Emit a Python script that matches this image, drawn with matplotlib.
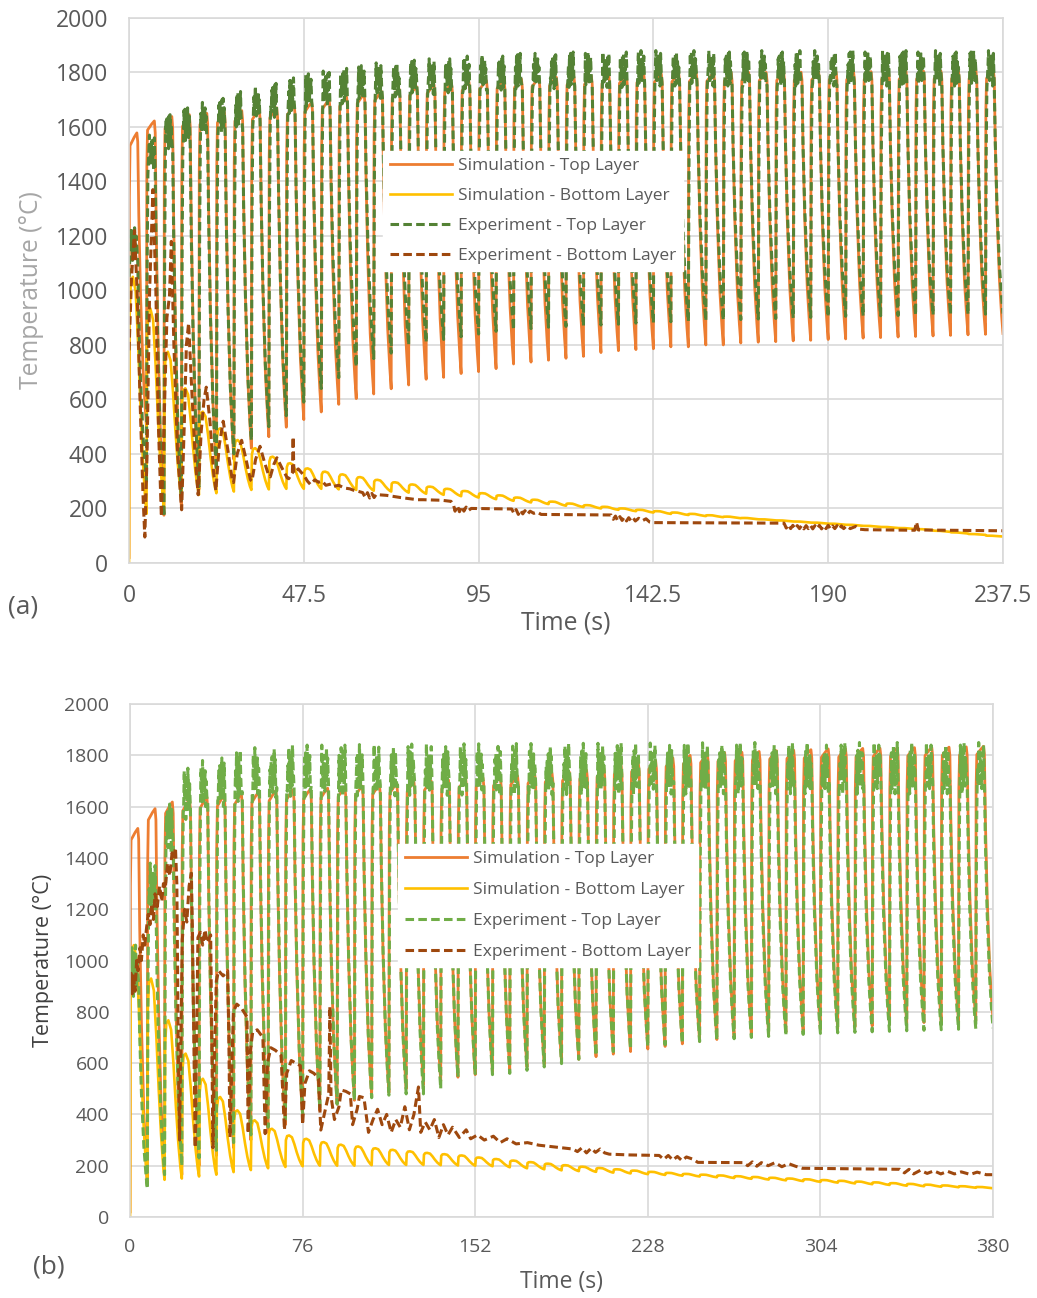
import numpy as np
import matplotlib
matplotlib.use('Agg')
import matplotlib.pyplot as plt

plt.rcParams['font.family'] = ['Open Sans', 'DejaVu Sans']

# ---------------- data ----------------
# panel (a): 50 cycles of 4.75 s
A_PERIOD = 4.75
A_XTICKS = [0, 47.5, 95, 142.5, 190, 237.5]
A_XTICK_LABELS = ['0', '47.5', '95', '142.5', '190', '237.5']

A_SIM_TOP_PEAK = [1578, 1622, 1638, 1645, 1650, 1655, 1660, 1665, 1670, 1680,
                  1690, 1700, 1710, 1720, 1730, 1740, 1748, 1755, 1760, 1765,
                  1770, 1773, 1776, 1779, 1782, 1785, 1787, 1789, 1791, 1793,
                  1795, 1796, 1797, 1798, 1799, 1800, 1800, 1801, 1801, 1802,
                  1802, 1803, 1803, 1804, 1804, 1805, 1805, 1806, 1806, 1807]
A_SIM_TOP_TROUGH = [500, 175, 200, 270, 330, 380, 421, 463, 498, 526,
                    554, 582, 603, 620, 639, 653, 674, 681, 695, 702,
                    713, 730, 737, 744, 751, 758, 772, 779, 783, 786,
                    793, 793, 800, 800, 807, 810, 812, 815, 817, 820,
                    822, 825, 827, 829, 831, 833, 835, 837, 839, 842]
A_EXP_TOP_PEAK = [1130, 1470, 1550, 1570, 1590, 1610, 1630, 1650, 1665, 1680,
                  1695, 1705, 1715, 1725, 1735, 1740, 1745, 1750, 1755, 1760,
                  1765, 1765, 1770, 1770, 1770, 1775, 1775, 1775, 1775, 1780,
                  1780, 1780, 1780, 1780, 1780, 1780, 1780, 1780, 1780, 1780,
                  1780, 1780, 1780, 1780, 1780, 1780, 1780, 1780, 1780, 1780]
A_EXP_TOP_TROUGH = [300, 170, 230, 280, 340, 400, 450, 500, 540, 590,
                    640, 680, 720, 750, 770, 800, 810, 820, 830, 840,
                    850, 855, 860, 865, 868, 870, 873, 876, 880, 882,
                    885, 887, 889, 891, 893, 895, 897, 899, 901, 903,
                    905, 906, 907, 908, 909, 910, 911, 912, 913, 915]
A_EXP_TOP_NOISE = [0, 50, -30, 90, 20, 95, -20, 60, 0, 40, 100, 10, -10, 70, 30, 80]
A_SIM_BOT_PEAK = [1050, 934, 775, 641, 555, 494, 451, 421, 390, 366,
                  347, 335, 325, 315, 305, 296, 288, 280, 272, 264,
                  256, 248, 240, 232, 225, 218, 212, 206, 200, 195,
                  190, 185, 180, 175, 170, 165, 160, 156, 152, 148,
                  144, 140, 136, 132, 128, 124, 118, 112, 106, 100]
A_SIM_BOT_TROUGH = [180, 200, 240, 250, 256, 262, 268, 270, 272, 272,
                    272, 270, 268, 265, 262, 258, 254, 250, 245, 240,
                    234, 228, 222, 216, 210, 205, 200, 195, 190, 185,
                    180, 176, 172, 168, 164, 160, 156, 152, 148, 144,
                    140, 136, 132, 128, 124, 120, 114, 108, 103, 97]
A_EXP_BOT_T = [0, 0.7, 1.5, 2.2, 3.0, 3.8, 4.3, 4.9, 5.6, 6.5, 7.3, 8.0, 8.8, 9.5, 10.3, 11.0, 11.5,
               12.2, 13.2, 14.3, 15.0, 15.6, 16.2, 17.0, 18.0, 18.8, 19.6, 20.4, 21.0, 22.0, 23.0,
               23.6, 24.5, 25.6, 26.8, 28.0, 28.4, 29.4, 30.6, 31.8, 33.0, 33.4, 34.4, 35.6, 36.8,
               38.0, 38.4, 39.3, 40.2, 41.5, 43.0, 43.4, 44.4, 44.6, 44.8, 46.0, 46.5, 47.5, 48.5,
               49.3, 50.5, 51.5, 52.5, 53.5, 55.0, 55.6, 57, 58.5, 60, 61, 62.5, 63.5, 64.2, 64.8,
               65.4, 66.0, 66.6, 67.2, 68, 70, 73.8, 78.4, 80, 85, 87.5, 88.2, 88.6, 89.2, 89.8,
               90.4, 91, 91.6, 92.2, 93, 104, 104.6, 105.2, 105.8, 106.4, 107, 107.6, 108.2, 109,
               110, 111, 112, 131, 131.6, 132.2, 132.8, 133.4, 134, 134.6, 135.2, 135.8, 136.4, 137,
               137.6, 138.5, 139.5, 140.5, 141.5, 142.5, 178, 178.6, 179.2, 179.8, 180.4, 181,
               181.6, 182.2, 182.8, 183.4, 184, 184.6, 185.2, 185.8, 186.4, 187, 187.6, 188.2,
               188.8, 189.4, 190, 190.6, 191.2, 191.8, 192.4, 193, 193.6, 194.2, 195, 196, 197.5,
               198.5, 200, 213.5, 214, 214.5, 237.5]
A_EXP_BOT_V = [780, 1050, 1220, 1000, 600, 250, 95, 400, 1000, 1370, 1000, 500, 170, 500, 900, 980, 1180,
               800, 400, 195, 500, 800, 880, 650, 380, 250, 480, 600, 645, 520, 330,
               265, 430, 520, 420, 310, 295, 400, 450, 380, 305, 300, 380, 428, 370,
               320, 316, 360, 386, 350, 312, 309, 330, 463, 330, 345, 337, 322, 300,
               288, 305, 296, 300, 285, 290, 281, 285, 275, 272, 267, 262, 258, 240, 258,
               238, 255, 240, 252, 250, 248, 240, 232, 232, 230, 226, 212, 190, 210, 188,
               208, 190, 205, 192, 200, 198, 182, 196, 178, 194, 180, 192, 178, 190,
               182, 186, 178, 176, 160, 172, 155, 170, 156, 168, 154, 166, 155, 165,
               154, 164, 155, 162, 150, 148, 146, 128, 140, 126, 138, 125,
               137, 126, 138, 125, 137, 126, 138, 125, 137, 126, 138, 125,
               137, 126, 138, 125, 136, 126, 137, 125, 136, 126, 136, 126, 134,
               124, 122, 120, 150, 121, 118]

# panel (b): 50 cycles of 7.6 s
B_PERIOD = 7.6
B_XTICKS = [0, 76, 152, 228, 304, 380]
B_XTICK_LABELS = ['0', '76', '152', '228', '304', '380']

B_SIM_TOP_PEAK = [1515, 1592, 1618, 1628, 1637, 1644, 1650, 1657, 1663, 1666,
                  1668, 1672, 1676, 1680, 1685, 1690, 1695, 1700, 1704, 1708,
                  1712, 1716, 1720, 1725, 1730, 1735, 1742, 1750, 1760, 1770,
                  1780, 1790, 1800, 1805, 1810, 1812, 1815, 1818, 1820, 1822,
                  1825, 1826, 1827, 1828, 1829, 1830, 1831, 1832, 1833, 1835]
B_SIM_TOP_TROUGH = [130, 150, 165, 200, 240, 270, 300, 330, 360, 390,
                    415, 440, 455, 470, 485, 500, 515, 530, 545, 555,
                    565, 575, 585, 595, 605, 615, 625, 635, 645, 655,
                    665, 675, 685, 692, 700, 708, 715, 720, 725, 730,
                    735, 740, 745, 750, 755, 758, 760, 762, 765, 768]
B_EXP_TOP_PEAK = [940, 1260, 1500, 1630, 1660, 1680, 1700, 1710, 1715, 1720,
                  1720, 1720, 1720, 1722, 1722, 1722, 1724, 1724, 1724, 1725,
                  1725, 1725, 1726, 1726, 1726, 1727, 1727, 1727, 1728, 1728,
                  1728, 1729, 1729, 1729, 1730, 1730, 1730, 1730, 1730, 1730,
                  1730, 1730, 1730, 1730, 1730, 1730, 1730, 1730, 1730, 1730]
B_EXP_TOP_TROUGH = [110, 165, 200, 230, 260, 290, 320, 350, 380, 400,
                    420, 440, 455, 465, 475, 480, 480, 500, 546, 559,
                    555, 560, 572, 585, 598, 615, 630, 645, 655, 665,
                    672, 678, 684, 690, 695, 700, 704, 708, 712, 716,
                    718, 720, 722, 724, 726, 728, 730, 732, 734, 736]
B_EXP_TOP_NOISE = [-60, 40, -20, 110, 0, 70, -80, 90, 20, -40, 120, 30, -50, 60, 10, 80]
B_SIM_BOT_PEAK = [1060, 930, 767, 637, 539, 468, 416, 377, 344, 318,
                  305, 292, 282, 275, 268, 262, 256, 250, 245, 240,
                  232, 226, 220, 214, 208, 202, 196, 191, 186, 181,
                  176, 172, 168, 165, 162, 159, 156, 153, 150, 147,
                  144, 141, 138, 135, 132, 129, 126, 123, 120, 117]
B_SIM_BOT_TROUGH = [140, 145, 150, 158, 165, 175, 183, 190, 195, 198,
                    200, 200, 200, 202, 203, 203, 203, 202, 201, 200,
                    198, 194, 190, 186, 182, 179, 176, 173, 170, 167,
                    164, 161, 158, 155, 152, 149, 146, 143, 140, 137,
                    134, 131, 128, 125, 122, 120, 118, 116, 114, 112]
B_EXP_BOT_T = [0, 0.5, 1.0, 1.5, 2.2, 2.9, 3.5, 4.4, 5.0, 5.8, 6.5, 7.3, 8.0, 8.8, 9.5, 10.3, 11.0,
               12.0, 13.0, 14.0, 14.7, 15.5, 16.5, 17.5, 18.5, 19.3, 20.0, 20.6, 21.2, 21.8, 22.4,
               23.0, 24.0, 25.0, 26.0, 27.0, 27.5, 28.2, 28.7, 29.3, 29.9, 31, 32, 33, 34, 35.5,
               36.0, 36.5, 37.2, 38, 39, 41, 43.0, 43.5, 44, 44.9, 45.5, 47, 49, 51.5, 52, 53, 54,
               56, 58.5, 59.5, 60.5, 62, 64, 66.5, 68, 69, 71, 73, 75, 76, 77, 79, 81, 83, 84, 86,
               87.5, 88.0, 88.5, 90, 92, 93, 95, 97, 98, 100, 101, 103, 105, 107, 109, 111, 113,
               115, 117, 119, 121, 123, 125, 127, 128, 130, 132, 134, 136, 138, 140, 142, 145,
               148, 150, 153, 156, 160, 163, 166, 170, 175, 180, 185, 190, 195, 197, 199, 201,
               203, 205, 207, 209, 211, 220, 233, 235, 237, 239, 241, 243, 245, 248, 250, 270,
               272, 274, 276, 278, 281, 284, 287, 290, 293, 296, 320, 339, 341, 343, 345, 348,
               351, 354, 357, 360, 363, 366, 370, 373, 377, 380]
B_EXP_BOT_V = [900, 950, 870, 940, 880, 1000, 960, 1050, 1000, 1100, 1060, 1130, 1180, 1140, 1220, 1160, 1260,
               1210, 1290, 1230, 1300, 1280, 1380, 1330, 1420, 1400, 1440, 1300, 700, 300, 700,
               1080, 1200, 1150, 1290, 1340, 1100, 600, 270, 700, 1090, 1110, 1060, 1120, 1070, 1100,
               700, 270, 650, 920, 960, 940, 960, 700, 311, 600, 800, 830, 815, 780, 325, 650, 720,
               730, 700, 325, 600, 660, 650, 630, 339, 560, 610, 600, 590, 360, 520, 570, 560, 540, 339, 420,
               480, 820, 470, 380, 430, 495, 490, 480, 360, 420, 470, 465, 330, 380, 420, 360, 400,
               330, 380, 350, 430, 340, 400, 507, 330, 370, 340, 380, 310, 360, 320, 350, 310,
               340, 305, 320, 300, 315, 290, 305, 285, 290, 280, 275, 270, 265, 255, 270, 250,
               268, 252, 265, 250, 245, 242, 240, 225, 240, 222, 236, 220, 234, 225, 213, 212,
               200, 215, 198, 212, 200, 212, 196, 208, 198, 190, 188, 186, 172, 186, 168, 182,
               170, 180, 168, 178, 168, 176, 166, 175, 165, 165]

# shape of one cycle (fraction of the way from trough to peak)
TOP_PHASE = [0.0, 0.02, 0.06, 0.30, 0.45, 0.50, 0.56, 0.66, 0.80, 0.92, 1.0]
TOP_FRAC = [0.0, 0.85, 0.97, 0.99, 1.00, 0.97, 0.72, 0.45, 0.20, 0.07, 0.0]
EXP_PHASE = [0.0, 0.04, 0.08, 0.11, 0.14, 0.17, 0.20, 0.23, 0.26, 0.29, 0.32, 0.35,
             0.38, 0.41, 0.45, 0.50, 0.56, 0.66, 0.80, 0.92, 1.0]
EXP_FRAC = [0.0, 0.70, 0.96, 1, 1, 1, 1, 1, 1, 1, 1, 1, 1, 1, 1, 0.97, 0.72, 0.45, 0.20, 0.07, 0.0]
BOT_PHASE = [0.0, 0.03, 0.10, 0.22, 0.38, 0.52, 0.66, 0.80, 0.92, 1.0]
BOT_FRAC = [0.0, 0.85, 0.98, 1.00, 0.94, 0.72, 0.45, 0.22, 0.07, 0.0]

ORANGE = '#ED7D31'
YELLOW = '#FFC000'
GREEN_A = '#548235'
GREEN_B = '#70AD47'
BROWN = '#9E480E'
GRID = '#D9D9D9'
TXT = '#595959'


def build_wave(period, peaks, troughs, start, phase, frac, noise=None):
    k_peak = int(np.argmax(np.array(frac) >= 1.0))
    ts, ys = [0.0], [start]
    prev = start
    for i, (pk, tr) in enumerate(zip(peaks, troughs)):
        t0 = i * period
        for j in range(1, len(phase)):
            base = prev if j < k_peak else tr
            y = base + frac[j] * (pk - base)
            if noise is not None and frac[j] >= 1.0:
                y += noise[(i * 5 + j) % len(noise)]
            ts.append(t0 + phase[j] * period)
            ys.append(y)
        prev = tr
    return ts, ys


def draw_panel(ax, period, xticks, xlabels, sim_top, exp_top, noise, sim_bot, exp_bot,
               green, tick_fs, xlab_fs, ylab_fs, ylab_color, leg_anchor, leg_spacing):
    t, y = build_wave(period, sim_top[0], sim_top[1], 20, TOP_PHASE, TOP_FRAC)
    ax.plot(t, y, color=ORANGE, lw=2.0, label='Simulation - Top Layer')
    t, y = build_wave(period, sim_bot[0], sim_bot[1], 0, BOT_PHASE, BOT_FRAC)
    ax.plot(t, y, color=YELLOW, lw=1.9, label='Simulation - Bottom Layer')
    t, y = build_wave(period, exp_top[0], exp_top[1], exp_top[2], EXP_PHASE, EXP_FRAC, noise)
    ax.plot(t, y, color=green, lw=2.2, ls=(0, (2.8, 1.4)), label='Experiment - Top Layer')
    ax.plot(exp_bot[0], exp_bot[1], color=BROWN, lw=2.2, ls=(0, (2.8, 1.4)),
            label='Experiment - Bottom Layer')

    ax.set_xlim(xticks[0], xticks[-1])
    ax.set_ylim(0, 2000)
    ax.set_xticks(xticks)
    ax.set_xticklabels(xlabels)
    ax.set_yticks(range(0, 2001, 200))
    ax.grid(color=GRID, lw=1.2)
    ax.set_axisbelow(True)
    for s in ax.spines.values():
        s.set_color(GRID)
        s.set_linewidth(1.2)
    ax.tick_params(length=0, labelsize=tick_fs, colors=TXT)
    ax.tick_params(axis='y', pad=15)
    ax.tick_params(axis='x', pad=15)
    ax.set_xlabel('Time (s)', fontsize=xlab_fs, color=TXT)
    ax.set_ylabel('Temperature (°C)', fontsize=ylab_fs, color=ylab_color)
    leg = ax.legend(loc='upper left', bbox_to_anchor=leg_anchor, bbox_transform=plt.gcf().transFigure,
                    fontsize=12.5, frameon=True, fancybox=False, framealpha=1, edgecolor='white',
                    handlelength=3.6, handletextpad=0.3, labelspacing=leg_spacing, borderpad=0.4,
                    borderaxespad=0)
    for txt in leg.get_texts():
        txt.set_color(TXT)


fig = plt.figure(figsize=(10.37, 12.98), dpi=100)
ax_a = fig.add_axes([0.1244, 0.5663, 0.8428, 0.4199])
ax_b = fig.add_axes([0.1254, 0.0624, 0.8322, 0.3952])

draw_panel(ax_a, A_PERIOD, A_XTICKS, A_XTICK_LABELS,
           (A_SIM_TOP_PEAK, A_SIM_TOP_TROUGH), (A_EXP_TOP_PEAK, A_EXP_TOP_TROUGH, 1050),
           A_EXP_TOP_NOISE, (A_SIM_BOT_PEAK, A_SIM_BOT_TROUGH), (A_EXP_BOT_T, A_EXP_BOT_V),
           GREEN_A, 16.5, 17.8, 17.7, '#A6A6A6', (383 / 1037, 1 - 151 / 1298), 0.8)
draw_panel(ax_b, B_PERIOD, B_XTICKS, B_XTICK_LABELS,
           (B_SIM_TOP_PEAK, B_SIM_TOP_TROUGH), (B_EXP_TOP_PEAK, B_EXP_TOP_TROUGH, 870),
           B_EXP_TOP_NOISE, (B_SIM_BOT_PEAK, B_SIM_BOT_TROUGH), (B_EXP_BOT_T, B_EXP_BOT_V),
           GREEN_B, 14, 16.5, 15.5, '#404040', (398 / 1037, 1 - 844 / 1298), 0.86)

ax_a.yaxis.set_label_coords(-0.097, 0.5)
ax_a.xaxis.set_label_coords(0.5, -0.088)
ax_b.yaxis.set_label_coords(-0.088, 0.5)
ax_b.xaxis.set_label_coords(0.5, -0.103)

fig.text(23 / 1037, 1 - 607 / 1298, '(a)', ha='center', va='center', fontsize=19, color=TXT)
fig.text(49 / 1037, 1 - 1267 / 1298, '(b)', ha='center', va='center', fontsize=19, color=TXT)

fig.savefig('out.png', dpi=100)
